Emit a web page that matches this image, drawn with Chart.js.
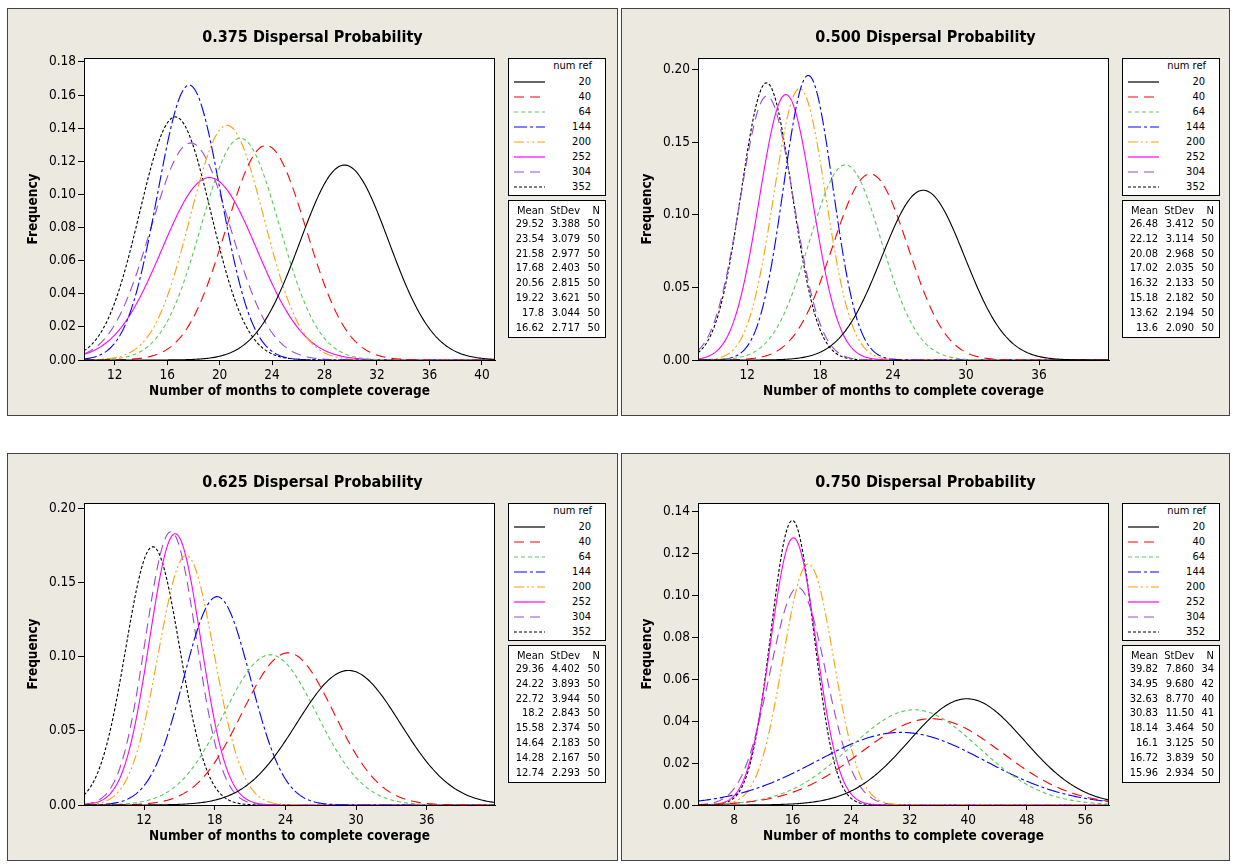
<!DOCTYPE html>
<html>
<head>
<meta charset="utf-8">
<script src="https://cdn.jsdelivr.net/npm/chart.js@4.4.1/dist/chart.umd.min.js"></script>
<style>
  body { margin: 0; background: #fff; width: 1233px; height: 867px; position: relative; overflow: hidden;
         font-family: "DejaVu Sans Condensed", "DejaVu Sans", sans-serif; }
  .panel { position: absolute; height: 408px; background: #ece9e0; border: 1px solid #444; box-sizing: border-box; }
  .panel canvas { position: absolute; left: -1px; top: -1px; }
  .box { position: absolute; background: #fff; border: 1px solid #000; box-sizing: border-box; font-size: 11px; color: #000; }
  .box span { position: absolute; white-space: nowrap; line-height: 12px; }
  .box svg { position: absolute; }
</style>
</head>
<body>
<script>
const numRef = [20, 40, 64, 144, 200, 252, 304, 352];

const mean375 = [29.52, 23.54, 21.58, 17.68, 20.56, 19.22, 17.8, 16.62];
const sd375 = [3.388, 3.079, 2.977, 2.403, 2.815, 3.621, 3.044, 2.717];
const n375 = [50, 50, 50, 50, 50, 50, 50, 50];

const mean500 = [26.48, 22.12, 20.08, 17.02, 16.32, 15.18, 13.62, 13.6];
const sd500 = [3.412, 3.114, 2.968, 2.035, 2.133, 2.182, 2.194, 2.090];
const n500 = [50, 50, 50, 50, 50, 50, 50, 50];

const mean625 = [29.36, 24.22, 22.72, 18.2, 15.58, 14.64, 14.28, 12.74];
const sd625 = [4.402, 3.893, 3.944, 2.843, 2.374, 2.183, 2.167, 2.293];
const n625 = [50, 50, 50, 50, 50, 50, 50, 50];

const mean750 = [39.82, 34.95, 32.63, 30.83, 18.14, 16.1, 16.72, 15.96];
const sd750 = [7.860, 9.680, 8.770, 11.50, 3.464, 3.125, 3.839, 2.934];
const n750 = [34, 42, 40, 41, 50, 50, 50, 50];

const titles = ['0.375 Dispersal Probability', '0.500 Dispersal Probability',
                '0.625 Dispersal Probability', '0.750 Dispersal Probability'];

// axis ranges for each panel
const xMin = [9.66, 7.96, 6.9, 3.06];
const xMax = [41.0, 41.75, 41.8, 59.25];
const xStep = [4, 6, 6, 8];
const yMax = [0.1824, 0.208, 0.2034, 0.1443];
const yStep = [0.02, 0.05, 0.05, 0.02];

const colors = ['#000000', '#ff0000', '#5cc85c', '#0000ff', '#ffa000', '#ff00ff', '#9a48dc', '#000000'];
const dashes = [[], [10, 6], [4, 3], [13, 3, 3, 3], [10, 3, 2, 3, 2, 3], [], [10, 6], [3, 2]];

const FONT = '"DejaVu Sans Condensed", "DejaVu Sans", sans-serif';

// normal density fitted from a series' mean and StDev
function normalCurve(mu, sd, x0, x1) {
  const pts = [];
  const steps = 300;
  for (let i = 0; i <= steps; i++) {
    const x = x0 + (x1 - x0) * i / steps;
    const z = (x - mu) / sd;
    pts.push({ x: x, y: Math.exp(-0.5 * z * z) / (sd * Math.sqrt(2 * Math.PI)) });
  }
  return pts;
}

// white plot area with a black frame, title centred on the whole panel
const frame = {
  id: 'frame',
  beforeDraw(chart) {
    const { ctx, chartArea: a } = chart;
    ctx.save();
    ctx.fillStyle = '#fff';
    ctx.fillRect(a.left, a.top, a.width, a.height);
    ctx.restore();
  },
  afterDraw(chart, args, opts) {
    const { ctx, chartArea: a } = chart;
    ctx.save();
    ctx.strokeStyle = '#000';
    ctx.lineWidth = 1;
    ctx.strokeRect(Math.round(a.left) + 0.5, Math.round(a.top) + 0.5,
                   Math.round(a.width) - 1, Math.round(a.height));
    ctx.fillStyle = '#000';
    ctx.font = 'bold 16px ' + FONT;
    ctx.textAlign = 'center';
    ctx.textBaseline = 'middle';
    ctx.fillText(opts.text, chart.width / 2, 30);
    ctx.restore();
  }
};

function addSpan(box, text, css) {
  const s = document.createElement('span');
  s.textContent = text;
  s.style.cssText = css;
  box.appendChild(s);
}

function buildLegend(panel, means, sds, ns) {
  const leg = document.createElement('div');
  leg.className = 'box';
  leg.style.cssText = 'left:500px;top:49px;width:98px;height:138px;';
  addSpan(leg, 'num ref', 'right:13px;top:1px;');
  numRef.forEach((r, i) => {
    const y = 23 + 15 * i;
    const svg = document.createElementNS('http://www.w3.org/2000/svg', 'svg');
    svg.setAttribute('width', '31');
    svg.setAttribute('height', '4');
    svg.style.cssText = 'left:5px;top:' + (y - 2) + 'px;';
    const ln = document.createElementNS('http://www.w3.org/2000/svg', 'line');
    ln.setAttribute('x1', '0'); ln.setAttribute('x2', '31');
    ln.setAttribute('y1', '2'); ln.setAttribute('y2', '2');
    ln.setAttribute('stroke', colors[i]);
    ln.setAttribute('stroke-width', '1.2');
    if (dashes[i].length) ln.setAttribute('stroke-dasharray', dashes[i].join(' '));
    svg.appendChild(ln);
    leg.appendChild(svg);
    addSpan(leg, String(r), 'right:14px;top:' + (y - 6) + 'px;');
  });
  panel.appendChild(leg);

  const st = document.createElement('div');
  st.className = 'box';
  st.style.cssText = 'left:500px;top:191px;width:98px;height:138px;';
  addSpan(st, 'Mean', 'left:8px;top:4px;');
  addSpan(st, 'StDev', 'right:25px;top:4px;');
  addSpan(st, 'N', 'right:5px;top:4px;');
  means.forEach((m, i) => {
    const top = 17 + 14.8 * i;
    addSpan(st, String(m), 'right:61px;top:' + top + 'px;');
    addSpan(st, sds[i].toPrecision(4), 'right:25px;top:' + top + 'px;');
    addSpan(st, String(ns[i]), 'right:5px;top:' + top + 'px;');
  });
  panel.appendChild(st);
}

function drawPanel(k, left, top, width, means, sds, ns) {
  const panel = document.createElement('div');
  panel.className = 'panel';
  panel.style.left = left + 'px';
  panel.style.top = top + 'px';
  panel.style.width = width + 'px';
  document.body.appendChild(panel);

  const canvas = document.createElement('canvas');
  canvas.width = width;
  canvas.height = 408;
  panel.appendChild(canvas);
  buildLegend(panel, means, sds, ns);

  new Chart(canvas, {
    type: 'line',
    data: {
      datasets: numRef.map((r, i) => ({
        label: String(r),
        data: normalCurve(means[i], sds[i], xMin[k], xMax[k]),
        borderColor: colors[i],
        borderDash: dashes[i],
        borderWidth: 1.1,
        pointRadius: 0,
        fill: false,
        tension: 0
      }))
    },
    options: {
      responsive: false,
      animation: false,
      events: [],
      layout: { padding: { top: 50, right: width - 488, bottom: 0, left: 0 } },
      plugins: {
        legend: { display: false },
        tooltip: { enabled: false },
        title: { display: false },
        frame: { text: titles[k] }
      },
      scales: {
        x: {
          type: 'linear',
          min: xMin[k],
          max: xMax[k],
          afterFit: s => { s.height = 56; },
          ticks: { stepSize: xStep[k], includeBounds: false, color: '#000', padding: 2,
                   maxRotation: 0, autoSkip: false, font: { family: FONT, size: 13.5 } },
          grid: { drawOnChartArea: false, tickLength: 5, color: '#000' },
          border: { color: '#000' },
          title: { display: true, text: 'Number of months to complete coverage', color: '#000',
                   font: { family: FONT, size: 13.5, weight: 'bold', lineHeight: 1.2 },
                   padding: { top: 0, bottom: 16.5 } }
        },
        y: {
          min: 0,
          max: yMax[k],
          afterFit: s => { s.width = 77; },
          ticks: { stepSize: yStep[k], includeBounds: false, color: '#000', padding: 2,
                   callback: v => v.toFixed(2), font: { family: FONT, size: 13.5 } },
          grid: { drawOnChartArea: false, tickLength: 6, color: '#000' },
          border: { color: '#000' },
          title: { display: true, text: 'Frequency', color: '#000',
                   font: { family: FONT, size: 13.5, weight: 'bold', lineHeight: 1.2 },
                   padding: { top: 18.5, bottom: 0 } }
        }
      }
    },
    plugins: [frame]
  });
}

drawPanel(0, 7, 8, 611, mean375, sd375, n375);
drawPanel(1, 621, 8, 609, mean500, sd500, n500);
drawPanel(2, 7, 453, 611, mean625, sd625, n625);
drawPanel(3, 621, 453, 609, mean750, sd750, n750);
</script>
</body>
</html>
